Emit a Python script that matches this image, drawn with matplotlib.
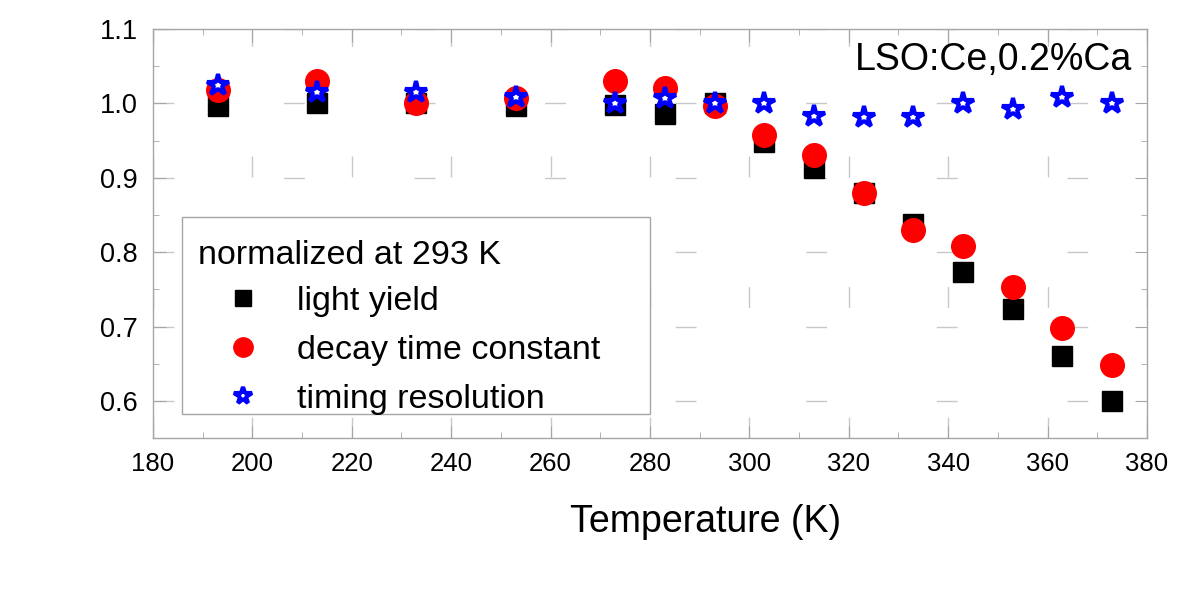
import matplotlib.pyplot as plt
from matplotlib.patches import Rectangle
from matplotlib.ticker import MultipleLocator, FormatStrFormatter

plt.rcParams['font.family'] = ['Liberation Sans', 'DejaVu Sans']

temperature = [193, 213, 233, 253, 273, 283, 293, 303, 313, 323, 333, 343, 353, 363, 373]
light_yield = [0.997, 1.001, 1.000, 0.997, 0.998, 0.985, 1.000, 0.948, 0.913, 0.880,
               0.838, 0.773, 0.723, 0.660, 0.600]
decay_time = [1.018, 1.030, 1.001, 1.007, 1.030, 1.020, 0.997, 0.958, 0.930, 0.880,
              0.830, 0.808, 0.753, 0.698, 0.648]
timing_res = [1.025, 1.015, 1.015, 1.008, 1.000, 1.007, 1.000, 1.000, 0.983, 0.982,
              0.982, 1.000, 0.992, 1.008, 1.000]

fig = plt.figure(figsize=(12, 5.89), dpi=100)
ax = fig.add_axes([0.1275, 0.256, 0.8283, 0.695])

gray = '#a6a6a6'
ax.plot(temperature, light_yield, 's', color='black', markersize=14.5,
        label='light yield', zorder=3)
ax.plot(temperature, decay_time, 'o', color='#ff0000', markersize=17,
        label='decay time constant', zorder=4)
ax.plot(temperature, timing_res, '*', markerfacecolor='white', markeredgecolor='#0000ff',
        markeredgewidth=3, markersize=16, label='timing resolution', zorder=5)

ax.set_xlim(180, 380)
ax.set_ylim(0.55, 1.1)
ax.xaxis.set_major_locator(MultipleLocator(20))
ax.xaxis.set_minor_locator(MultipleLocator(10))
ax.yaxis.set_major_locator(MultipleLocator(0.1))
ax.yaxis.set_minor_locator(MultipleLocator(0.05))
ax.yaxis.set_major_formatter(FormatStrFormatter('%.1f'))

ax.grid(True, which='major', color='#c8c8c8', linewidth=1, dashes=(15, 79))
for s in ax.spines.values():
    s.set_color(gray)
    s.set_linewidth(1)
ax.tick_params(which='both', direction='in', top=True, right=True, color=gray)
ax.tick_params(which='major', length=9)
ax.tick_params(which='minor', length=4.5)
ax.tick_params(axis='y', pad=11, labelsize=19.5)
ax.tick_params(axis='x', pad=10, labelsize=18.5)

fig.text(706 / 1200, 1 - 522 / 589, 'Temperature (K)', fontsize=27,
         ha='center', va='center')
ax.text(0.985, 0.925, 'LSO:Ce,0.2%Ca', fontsize=27, ha='right', va='center',
        transform=ax.transAxes)

# legend box drawn separately (the original has more room above the title than below)
ax.add_patch(Rectangle((182 / 1200, 1 - 414 / 589), 468 / 1200, 197 / 589,
                       transform=fig.transFigure, facecolor='white',
                       edgecolor=gray, linewidth=1, zorder=6, clip_on=False))
leg = ax.legend(loc='upper left', bbox_to_anchor=(198 / 1200, 1 - 240 / 589),
                bbox_transform=fig.transFigure, title='normalized at 293 K',
                fontsize=24.5, title_fontsize=24.5, alignment='left',
                frameon=False, borderpad=0, labelspacing=0.52,
                handlelength=2.65, handletextpad=0.26, borderaxespad=0,
                markerscale=0.82)
leg.set_zorder(7)
leg._legend_box.sep = 11

fig.savefig('out.png', dpi=100)
